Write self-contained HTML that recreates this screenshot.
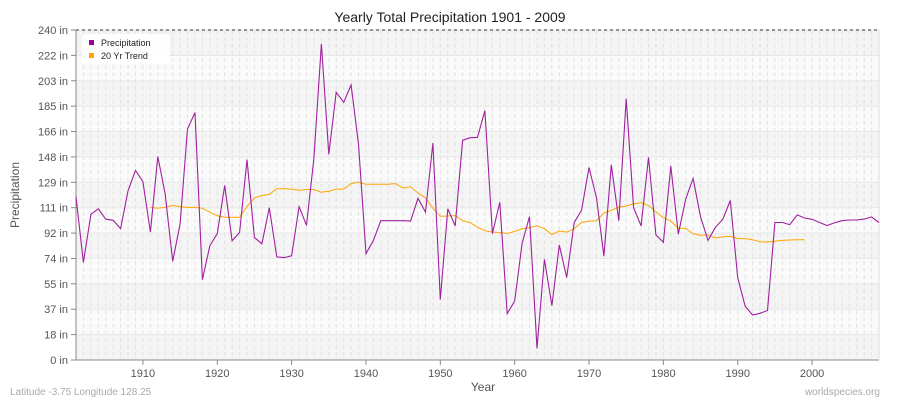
<!DOCTYPE html>
<html><head><meta charset="utf-8"><style>
body{margin:0;background:#fff;font-family:"Liberation Sans",sans-serif}
svg text{font-family:"Liberation Sans",sans-serif}
</style></head><body>
<svg id="chart" width="900" height="400" xmlns="http://www.w3.org/2000/svg">
<rect width="900" height="400" fill="#fff"/>
<text x="450" y="22" text-anchor="middle" font-size="14" fill="#222">Yearly Total Precipitation 1901 - 2009</text>
<g id="grid"></g>
<g id="axes"></g>
<g id="series"></g>
<text x="483" y="391" text-anchor="middle" font-size="12" fill="#555">Year</text>
<text transform="translate(19,195) rotate(-90)" text-anchor="middle" font-size="12" fill="#555">Precipitation</text>
<text x="10" y="395" font-size="10" fill="#aaa">Latitude -3.75 Longitude 128.25</text>
<text x="880" y="395" text-anchor="end" font-size="10" fill="#aaa">worldspecies.org</text>
<g>
<rect x="82" y="34" width="88" height="30" rx="4" fill="#fff" opacity="0.9"/>
<rect x="89" y="40" width="5" height="5" fill="#990099"/>
<text x="101" y="46" font-size="9" fill="#222">Precipitation</text>
<rect x="89" y="53" width="5" height="5" fill="#ffa500"/>
<text x="101" y="59" font-size="9" fill="#222">20 Yr Trend</text>
</g>
</svg>
<script>
const startYear = 1901;
const precip = [118.8,71,106,110,102.5,101.6,95.5,123,138,129.7,93,148,120.5,71.8,99,168,180,58.4,83,92,127,86.8,92.8,145.7,89,84.6,110.8,75,74.5,75.8,111.5,98,146.7,230,149.6,194.7,187.4,200,157,77.3,87,101.3,101.3,101.3,101.3,101,117.6,107.6,157.8,43.9,110,97.5,159.8,161.7,162,181.3,92,114.7,33.7,43,84.8,104.3,8.5,73.2,39.5,83.6,60,99.9,109,140,118,75.6,142,101.3,190,110.8,97.5,147.4,91,85.6,141,91.6,117,132,104,87,96.5,102.5,116,60,39,32.7,34,36,100,100,98.5,105.5,103.3,102.3,100,97.8,99.7,101.3,101.8,101.8,102.5,104,100];
const trendStart = 1911;
const trend = [111,110.3,111,112.4,111.5,111,111,110.3,107.6,104.8,103.8,103.8,103.8,111.5,118,119.6,120.4,124.5,124.5,124.3,123.4,124,124,122,122.7,124.3,124.3,128.3,129.4,127.8,127.8,127.8,127.8,128.3,125,126,121.4,118,110.3,104.5,104.7,105,101.3,99.9,96.6,94,93,92.7,92,93.5,95.5,96.2,97.6,95.5,91.3,93.8,93,95.5,100,101,101.3,107,108.8,111.3,112,113.5,114.5,112.4,107.8,103.5,101,95.7,95.7,91.8,90.8,91,88.8,89.5,90,88.3,88.3,87.5,86,85.8,86.5,87,87.3,87.5,87.5];
const yTicks = [0,18,37,55,74,92,111,129,148,166,185,203,222,240];
const xTicks = [1910,1920,1930,1940,1950,1960,1970,1980,1990,2000];

const L=76,R=879,T=30,B=360,YMAX=240;
const xs = yr => L + (yr-1901)*(R-L)/108;
const ys = v => B - v*(B-T)/YMAX;
const NS="http://www.w3.org/2000/svg";
function mk(tag, attrs, parent){const e=document.createElementNS(NS,tag);for(const k in attrs)e.setAttribute(k,attrs[k]);parent.appendChild(e);return e;}
const grid=document.getElementById('grid'), axes=document.getElementById('axes'), series=document.getElementById('series');
for(let i=0;i<13;i++){
  const y0=B-(i+1)*(B-T)/13;
  const r=mk('rect',{x:L,y:y0,width:R-L,height:(B-T)/13,fill:i%2===0?'#f4f4f4':'#fafafa'},grid);
  
  
}
for(let yr=1901; yr<=2009; yr++){
  const l=mk('line',{x1:xs(yr),x2:xs(yr),y1:T,y2:B,stroke:'#e2e2e2','stroke-dasharray':'4,3','stroke-width':1},grid);
  
  
}
yTicks.forEach((v,i)=>{
  const y=B-i*(B-T)/13;
  const g=mk('line',{x1:L,x2:R,y1:y,y2:y,stroke:'#e6e6e6'},grid);
  
  
  const t=mk('line',{x1:L-5,x2:L,y1:y,y2:y,stroke:'#888'},axes);
  
  
  const tx=mk('text',{x:L-8,y:y+4,'text-anchor':'end','font-size':11,fill:'#555'},axes);
  tx.textContent=v+' in';
  
  
});
const topBorder=mk('line',{x1:L,x2:R,y1:T,y2:T,stroke:'#333','stroke-dasharray':'3,3'},axes);


const ya=mk('line',{x1:L,x2:L,y1:T,y2:B,stroke:'#888'},axes);


const xa=mk('line',{x1:L,x2:R,y1:B,y2:B,stroke:'#888'},axes);


const ra=mk('line',{x1:R,x2:R,y1:T,y2:B,stroke:'#ddd'},axes);


xTicks.forEach(yr=>{
  const t=mk('line',{x1:xs(yr),x2:xs(yr),y1:B,y2:B+5,stroke:'#888'},axes);
  
  
  const tx=mk('text',{x:xs(yr),y:B+17,'text-anchor':'middle','font-size':11,fill:'#555'},axes);
  tx.textContent=yr;
  
  
});
const tp=trend.map((v,i)=>xs(trendStart+i).toFixed(1)+','+ys(v).toFixed(1)).join(' ');
const tl=mk('polyline',{points:tp,fill:'none',stroke:'#ffa500','stroke-width':1},series);


const pp=precip.map((v,i)=>xs(startYear+i).toFixed(1)+','+ys(v).toFixed(1)).join(' ');
const pl=mk('polyline',{points:pp,fill:'none',stroke:'#a020a0','stroke-width':1.1},series);


</script>
</body></html>
